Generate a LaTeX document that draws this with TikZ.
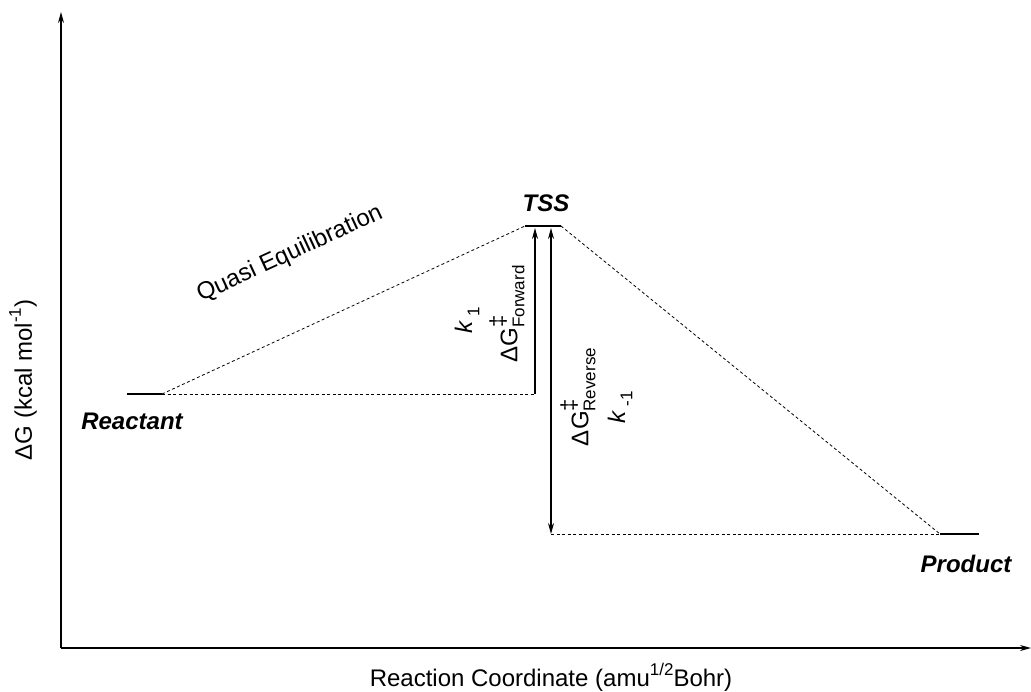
\documentclass[tikz,border=0pt]{standalone}
\usepackage{fontspec}
\setmainfont{Liberation Sans}
\usetikzlibrary{arrows.meta}
\tikzset{
  axis/.style={line width=1.3pt,-{Stealth[length=11pt,width=6pt]}},
  level/.style={line width=2.6pt},
  guide/.style={line width=0.8pt,dash pattern=on 3pt off 2.5pt},
  barrier/.style={line width=1.3pt},
  mytip/.tip={Stealth[length=11pt,width=6pt]},
  bolditlabel/.style={font=\fontsize{24}{28}\selectfont\bfseries\itshape,inner sep=0pt},
  plainlabel/.style={font=\fontsize{24}{28}\selectfont,inner sep=0pt}
}
\newcommand{\smallsz}{\fontsize{17}{20}\selectfont}
\newcommand{\dGlab}[1]{ΔG\rlap{\raisebox{0.5em}{\fontsize{22}{24}\selectfont ‡}}\raisebox{-0.3em}{\smallsz #1}}
\begin{document}
\begin{tikzpicture}[x=1pt,y=-1pt]
\useasboundingbox (0,0) rectangle (1031,691);
% axes
\coordinate (origin) at (61,648);
\coordinate (ytop) at (61,12);
\coordinate (xend) at (1031,648);
\draw[axis] (origin) -- (ytop);
\draw[axis] (origin) -- (xend);
% levels
\coordinate (rL) at (127,394); \coordinate (rR) at (162,394);
\coordinate (tL) at (525,226); \coordinate (tR) at (561,226);
\coordinate (pL) at (940,534); \coordinate (pR) at (979,534);
\draw[level] (rL) -- (rR);
\draw[level] (tL) -- (tR);
\draw[level] (pL) -- (pR);
% guides
\coordinate (fB) at (535,394); \coordinate (fT) at (535,228);
\coordinate (bB) at (551,534); \coordinate (bT) at (551,228);
\draw[guide] (rR) -- (tL);
\draw[guide] (tR) -- (pL);
\draw[guide] (rR) -- (fB);
\draw[guide] (bB) -- (pL);
% barrier arrows
\draw[barrier,-mytip] (fB) -- (fT);
\draw[barrier,mytip-mytip] (bB) -- (bT);
% labels
\node[bolditlabel] (reactant) at (132,421) {Reactant};
\node[bolditlabel] (tss) at (546,203) {TSS};
\node[bolditlabel] (product) at (966,564) {Product};
\node[plainlabel,rotate=24.8] (quasi) at (290,254) {Quasi Equilibration};
\node[plainlabel,rotate=90] (k1) at (467,320) {\textit{k}\,\raisebox{-0.3em}{\smallsz 1}};
\node[plainlabel,rotate=90] (dGf) at (507,314) {\dGlab{Forward}};
\node[plainlabel,rotate=90] (dGr) at (578,397) {\dGlab{Reverse}};
\node[plainlabel,rotate=90] (km1) at (620,407) {\textit{k}\,\raisebox{-0.3em}{\smallsz -1}};
\node[plainlabel] (xlab) at (551,677) {Reaction Coordinate (amu\raisebox{0.45em}{\smallsz 1/2}Bohr)};
\node[plainlabel,rotate=90] (ylab) at (23,380) {ΔG (kcal mol\raisebox{0.45em}{\smallsz -1})};
\end{tikzpicture}
\end{document}
